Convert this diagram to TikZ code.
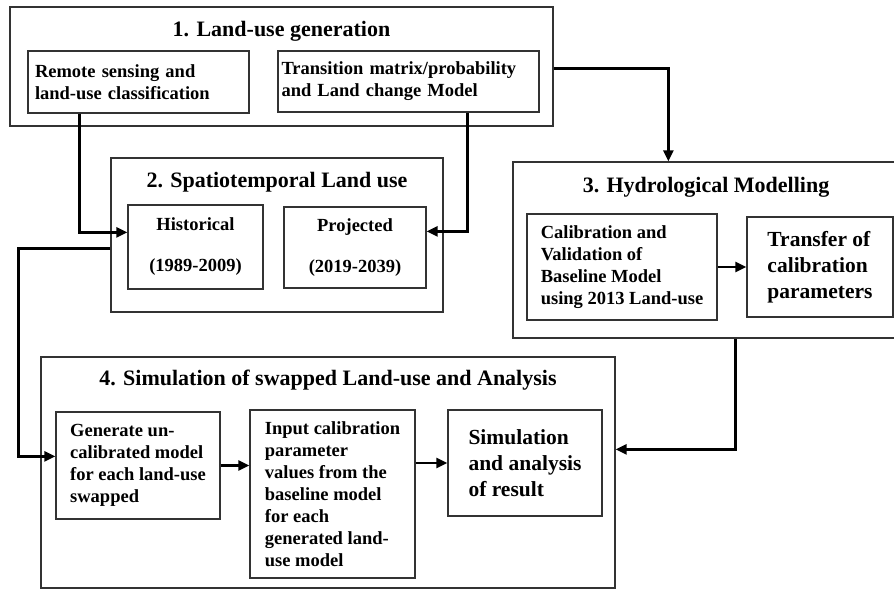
\documentclass[tikz,border=0pt]{standalone}
\usepackage{fontspec}
\setmainfont{Liberation Serif}
\usetikzlibrary{calc, arrows.meta}

\begin{document}
\begin{tikzpicture}[x=1pt, y=-1pt]

\tikzstyle{group}=[rectangle, draw=black!80, line width=1.3pt, inner sep=0pt]
\tikzstyle{box}=[rectangle, draw=black!80, line width=1.3pt, inner sep=0pt, align=left, font=\fontsize{18.5}{22}\selectfont\bfseries]
\tikzstyle{bigbox}=[box, font=\fontsize{21.5}{26}\selectfont\bfseries]
\tikzstyle{title}=[anchor=base, inner sep=0pt, font=\fontsize{22}{26}\selectfont\bfseries]
\tikzstyle{arrow}=[-{Triangle[length=11pt,width=10pt]}, line width=2.6pt]

\clip (0,0) rectangle (894,590);

% 1. land-use generation
\node (b1) [group, minimum width=543pt, minimum height=119pt] at (281.5,66.5) {};
\node (t1) [title] at (281.5,36) {1. Land-use generation};
\node (rs) [box, minimum width=221pt, minimum height=62pt, text width=207pt] at (138.5,82)
      {Remote sensing and\\ land-use classification};
\node (tm) [box, minimum width=261pt, minimum height=61pt, text width=254pt] at (408.5,81.5)
      {Transition matrix/probability\\ and Land change Model};

% 2. spatiotemporal land use
\node (b2) [group, minimum width=332pt, minimum height=154pt] at (277,235) {};
\node (t2) [title] at (277,187) {2. Spatiotemporal Land use};
\node (hist) [box, align=center, minimum width=135pt, minimum height=84pt] at (195.5,247)
      {Historical\\[19pt](1989-2009)};
\node (proj) [box, align=center, minimum width=142pt, minimum height=81pt] at (355,247.5)
      {Projected\\[19pt](2019-2039)};

% 3. hydrological modelling
\node (b3) [group, minimum width=386pt, minimum height=176pt] at (706,250) {};
\node (t3) [title] at (706,192) {3. Hydrological Modelling};
\node (cal) [box, minimum width=190pt, minimum height=106pt] at (622,267)
      {Calibration and\\ Validation of\\ Baseline Model\\ using 2013 Land-use};
\node (tr) [bigbox, minimum width=146pt, minimum height=100pt] at (820,267)
      {Transfer of\\ calibration\\ parameters};

% 4. simulation and analysis
\node (b4) [group, minimum width=574pt, minimum height=231pt] at (328,472.5) {};
\node (t4) [title] at (328,385) {4. Simulation of swapped Land-use and Analysis};
\node (gen) [box, minimum width=164pt, minimum height=107pt] at (138,465.5)
      {Generate un-\\ calibrated model\\ for each land-use\\ swapped};
\node (inp) [box, minimum width=165pt, minimum height=168pt] at (332.5,494)
      {Input calibration\\ parameter\\ values from the\\ baseline model\\ for each\\ generated land-\\ use model};
\node (sim) [bigbox, minimum width=154pt, minimum height=106pt] at (525,463)
      {Simulation\\ and analysis\\ of result};

% connectors
\draw [arrow] ($(rs.south west)+(52,0)$) |- ($(hist.north west)+(0,28)$);
\draw [arrow] ($(tm.south west)+(190,0)$) |- ($(proj.north east)+(0,25)$);
\draw [arrow] ($(b1.north east)+(0,62)$) -| ($(b3.north west)+(156,0)$);
\draw [arrow] (cal.east) -- (tr.west |- cal.east);
\draw [arrow] ($(b2.north west)+(0,91)$) -- ++(-92,0) |- ($(gen.north west)+(0,45)$);
\draw [arrow] (gen.east) -- (gen.east -| inp.west);
\draw [arrow] (sim.west -| inp.east) -- (sim.west);
\draw [arrow] ($(b3.south west)+(223,0)$) |- ($(b4.north east)+(0,93)$);

\end{tikzpicture}
\end{document}
